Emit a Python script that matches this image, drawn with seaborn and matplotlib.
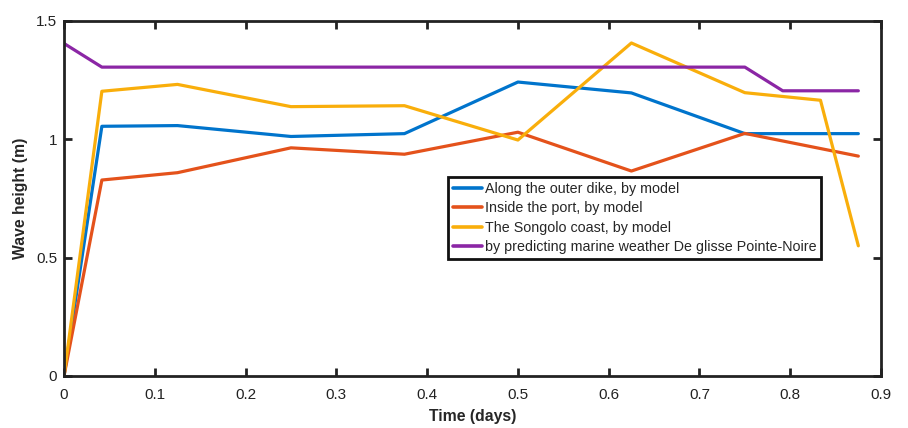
import matplotlib
matplotlib.use("Agg")
import matplotlib.pyplot as plt
import seaborn as sns
import pandas as pd

# Sampling times (days)
t_model = [0, 0.0417, 0.125, 0.25, 0.375, 0.5, 0.625, 0.75, 0.875]
t_coast = [0, 0.0417, 0.125, 0.25, 0.375, 0.5, 0.625, 0.75, 0.8333, 0.875]
t_forecast = [0, 0.0417, 0.125, 0.25, 0.375, 0.5, 0.625, 0.75, 0.7917, 0.875]

# Wave heights (m)
outer_dike = [0, 1.055, 1.058, 1.012, 1.024, 1.242, 1.196, 1.024, 1.024]
inside_port = [0, 0.828, 0.859, 0.964, 0.937, 1.03, 0.866, 1.025, 0.929]
songolo = [0, 1.203, 1.232, 1.138, 1.142, 0.997, 1.407, 1.197, 1.165, 0.55]
forecast = [1.405, 1.305, 1.305, 1.305, 1.305, 1.305, 1.305, 1.305, 1.205, 1.205]

labels = [
    "Along the outer dike, by model",
    "Inside the port, by model",
    "The Songolo coast, by model",
    "by predicting marine weather De glisse Pointe-Noire",
]
colors = ["#0074CC", "#E4521B", "#F9AE0B", "#8B26A5"]

frames = []
for lab, t, h in zip(labels, [t_model, t_model, t_coast, t_forecast],
                     [outer_dike, inside_port, songolo, forecast]):
    frames.append(pd.DataFrame({"time": t, "height": h, "series": lab}))
df = pd.concat(frames, ignore_index=True)

sns.set_style("white")
plt.rcParams["font.family"] = ["Liberation Sans", "DejaVu Sans"]

fig = plt.figure(figsize=(9.08, 4.28), dpi=100)
ax = fig.add_axes([0.0705, 0.1215, 0.8998, 0.8295])

sns.lineplot(data=df, x="time", y="height", hue="series", hue_order=labels,
             palette=colors, estimator=None, sort=False, linewidth=2.3, ax=ax)

ax.set_xlim(0, 0.9)
ax.set_ylim(0, 1.5)
ax.set_xticks([0, 0.1, 0.2, 0.3, 0.4, 0.5, 0.6, 0.7, 0.8, 0.9])
ax.set_xticklabels(["0", "0.1", "0.2", "0.3", "0.4", "0.5", "0.6", "0.7", "0.8", "0.9"])
ax.set_yticks([0, 0.5, 1, 1.5])
ax.set_yticklabels(["0", "0.5", "1", "1.5"])
ax.tick_params(direction="in", length=6, width=2, top=True, right=True,
               bottom=True, left=True, labelsize=11, colors="#222222",
               labelcolor="#222222")
ax.tick_params(axis="x", pad=9)
ax.tick_params(axis="y", pad=5)
for s in ax.spines.values():
    s.set_linewidth(2)
    s.set_color("#222222")
    s.set_visible(True)

ax.set_xlabel("Time (days)", fontsize=11.3, fontweight="bold", labelpad=5)
ax.set_ylabel("Wave height (m)", fontsize=11.3, fontweight="bold", labelpad=6)

leg = ax.legend(loc="upper right", bbox_to_anchor=(0.927, 0.561), borderaxespad=0,
                fontsize=10.3, frameon=True, fancybox=False, handlelength=2.0,
                handletextpad=0.2, labelspacing=0.38, borderpad=0.35)
leg.get_frame().set_edgecolor("#111111")
leg.get_frame().set_linewidth(2)
leg.get_frame().set_alpha(1)
for line in leg.get_lines():
    line.set_linewidth(2.6)

fig.savefig("out.png", dpi=100)
